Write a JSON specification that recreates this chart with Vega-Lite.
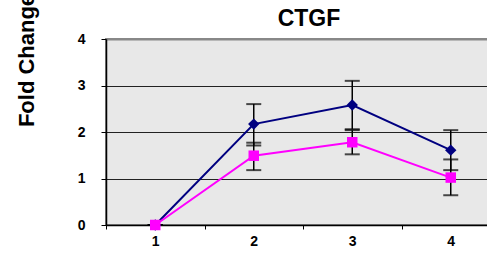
{
  "$schema": "https://vega.github.io/schema/vega-lite/v6.json",
  "autosize": {"type": "none"},
  "padding": {"left": 106, "top": 39, "right": 0, "bottom": 30},
  "width": 394,
  "height": 186,
  "background": "white",
  "title": {"text": "CTGF", "font": "Liberation Sans", "fontSize": 23, "fontWeight": "bold", "color": "black", "anchor": "middle", "frame": "group", "dx": 6, "dy": 67, "offset": 11, "baseline": "alphabetic"},
  "config": {
    "view": {"fill": "#e8e8e8", "stroke": "#888888", "strokeWidth": 2},
    "font": "Liberation Sans"
  },
  "data": {"values": [
    {"t": 1, "s": "A", "v": 0, "lo": 0, "hi": 0},
    {"t": 2, "s": "A", "v": 2.17, "lo": 1.71, "hi": 2.6},
    {"t": 3, "s": "A", "v": 2.58, "lo": 2.06, "hi": 3.1},
    {"t": 4, "s": "A", "v": 1.61, "lo": 1.18, "hi": 2.04},
    {"t": 1, "s": "B", "v": 0, "lo": 0, "hi": 0},
    {"t": 2, "s": "B", "v": 1.49, "lo": 1.18, "hi": 1.77},
    {"t": 3, "s": "B", "v": 1.78, "lo": 1.52, "hi": 2.04},
    {"t": 4, "s": "B", "v": 1.02, "lo": 0.64, "hi": 1.41}
  ]},
  "resolve": {"axis": {"x": "independent"}},
  "layer": [
    {
      "mark": {"type": "rule", "color": "black", "strokeWidth": 1.5},
      "encoding": {
        "x": {"field": "t", "type": "quantitative", "scale": {"domain": [0.5, 4.5], "nice": false, "zero": false},
              "axis": {"orient": "bottom", "values": [0.5, 1.5, 2.5, 3.5, 4.5], "labels": false, "ticks": true, "tickSize": 4, "tickColor": "black", "tickWidth": 1, "domain": false, "grid": false, "title": null}},
        "y": {"field": "lo", "type": "quantitative", "scale": {"domain": [0, 4], "nice": false},
              "axis": {"values": [0, 1, 2, 3, 4], "title": "Fold Change", "titleFont": "Liberation Sans", "titleFontSize": 22, "titleFontWeight": "bold", "titleColor": "black", "titleAngle": -90, "titleX": -80, "titleY": 21, "titleAlign": "center", "titleBaseline": "middle",
                       "labelFont": "Liberation Sans", "labelFontSize": 14, "labelFontWeight": "bold", "labelColor": "black", "labelPadding": 16,
                       "tickSize": 5, "tickColor": "black", "domainColor": "black", "domainWidth": 1.5, "grid": true,
                       "gridColor": {"condition": {"test": "datum.value === 4", "value": "#888888"}, "value": "#222222"},
                       "gridWidth": {"condition": {"test": "datum.value === 4", "value": 2}, "value": 1}}},
        "y2": {"field": "hi"}
      }
    },
    {
      "mark": {"type": "tick", "color": "black", "thickness": 2, "size": 15, "orient": "horizontal"},
      "encoding": {
        "x": {"field": "t", "type": "quantitative", "axis": null},
        "y": {"field": "lo", "type": "quantitative"}
      }
    },
    {
      "mark": {"type": "tick", "color": "black", "thickness": 2, "size": 15, "orient": "horizontal"},
      "encoding": {
        "x": {"field": "t", "type": "quantitative", "axis": null},
        "y": {"field": "hi", "type": "quantitative"}
      }
    },
    {
      "mark": {"type": "line", "strokeWidth": 2},
      "encoding": {
        "x": {"field": "t", "type": "quantitative",
              "axis": {"orient": "bottom", "values": [1, 2, 3, 4], "ticks": false, "domain": true, "domainColor": "black", "domainWidth": 1.5, "labelFont": "Liberation Sans", "labelFontSize": 14, "labelFontWeight": "bold", "labelColor": "black", "labelPadding": 9, "grid": false, "title": null}},
        "y": {"field": "v", "type": "quantitative"},
        "color": {"field": "s", "type": "nominal", "scale": {"domain": ["A", "B"], "range": ["#000080", "#ff00ff"]}, "legend": null},
        "order": {"field": "t"}
      }
    },
    {
      "mark": {"type": "point", "filled": true, "opacity": 1},
      "encoding": {
        "x": {"field": "t", "type": "quantitative", "axis": null},
        "y": {"field": "v", "type": "quantitative"},
        "color": {"field": "s", "type": "nominal", "legend": null},
        "shape": {"field": "s", "type": "nominal", "scale": {"domain": ["A", "B"], "range": ["diamond", "square"]}, "legend": null},
        "size": {"field": "s", "type": "nominal", "scale": {"domain": ["A", "B"], "range": [130, 110]}, "legend": null}
      }
    }
  ]
}
